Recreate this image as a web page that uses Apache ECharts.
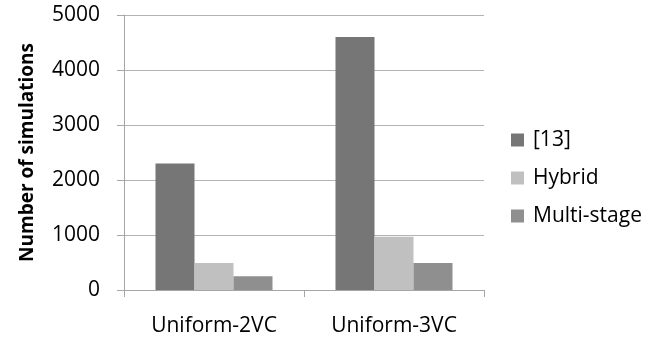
<!DOCTYPE html>
<html>
<head>
<meta charset="utf-8">
<script src="https://cdn.jsdelivr.net/npm/echarts@6/dist/echarts.min.js"></script>
<style>
  html, body { margin: 0; padding: 0; background: #fff; }
  #chart { width: 670px; height: 337px; }
</style>
</head>
<body>
<div id="chart"></div>
<script>
// Simulation counts per traffic pattern and method
const categories = ['Uniform-2VC', 'Uniform-3VC'];
const seriesNames = ['[13]', 'Hybrid', 'Multi-stage'];
const ref13 = [2300, 4600];
const hybrid = [490, 970];
const multiStage = [250, 490];
const yTicks = [0, 1000, 2000, 3000, 4000, 5000];

const colors = ['#767676', '#c0c0c0', '#8f8f8f'];
const font = '"Open Sans", sans-serif';

const chart = echarts.init(document.getElementById('chart'));

chart.setOption({
  animation: false,
  backgroundColor: '#ffffff',
  textStyle: { fontFamily: font },
  grid: { left: 124, right: 186, top: 15, bottom: 47, containLabel: false },
  legend: {
    orient: 'vertical',
    left: 511,
    top: 128,
    padding: 0,
    itemWidth: 13,
    itemHeight: 13,
    itemGap: 14,
    icon: 'rect',
    textStyle: { fontFamily: font, fontSize: 21, color: '#000', lineHeight: 24, padding: [0, 0, 0, 4] },
    data: seriesNames
  },
  xAxis: {
    type: 'category',
    data: categories,
    axisLine: { show: true, lineStyle: { color: '#a6a6a6', width: 1 } },
    axisTick: { show: true, length: 7, alignWithLabel: false, lineStyle: { color: '#a6a6a6' } },
    axisLabel: { fontFamily: font, fontSize: 21, color: '#000', margin: 26 },
    splitLine: { show: false }
  },
  yAxis: {
    type: 'value',
    min: yTicks[0],
    max: yTicks[yTicks.length - 1],
    interval: 1000,
    name: 'Number of simulations',
    nameLocation: 'middle',
    nameGap: 87,
    nameTextStyle: { fontFamily: font, fontSize: 19, fontWeight: 'bold', color: '#000' },
    axisLine: { show: true, lineStyle: { color: '#a6a6a6', width: 1 } },
    axisTick: { show: true, length: 7, lineStyle: { color: '#a6a6a6' } },
    axisLabel: {
      fontFamily: font, fontSize: 21, color: '#000', margin: 24,
      formatter: (v) => String(v)
    },
    splitLine: { show: true, lineStyle: { color: '#b3b3b3', width: 1 } }
  },
  series: [
    { name: seriesNames[0], type: 'bar', data: ref13, itemStyle: { color: colors[0] }, barGap: '0%', barCategoryGap: '35%' },
    { name: seriesNames[1], type: 'bar', data: hybrid, itemStyle: { color: colors[1] }, barGap: '0%', barCategoryGap: '35%' },
    { name: seriesNames[2], type: 'bar', data: multiStage, itemStyle: { color: colors[2] }, barGap: '0%', barCategoryGap: '35%' }
  ]
});
</script>
</body>
</html>
